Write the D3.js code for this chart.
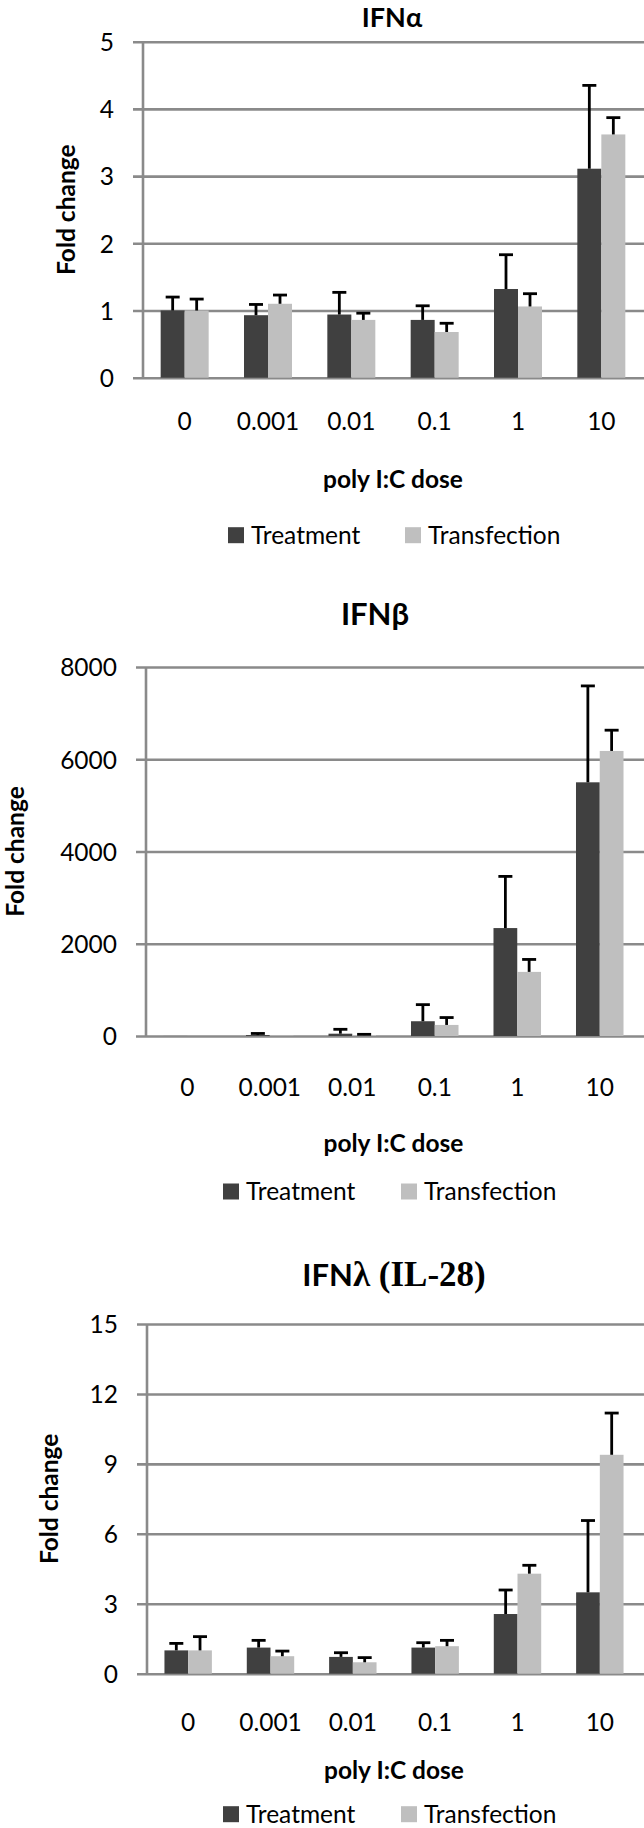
<!DOCTYPE html>
<html>
<head>
<meta charset="utf-8">
<script src="https://cdn.jsdelivr.net/npm/d3@7"></script>
<style>
  html, body { margin: 0; padding: 0; background: #ffffff; }
  svg { display: block; }
</style>
</head>
<body>
<svg id="fig" width="644" height="1828"></svg>
<script>
// ---------- data ----------
const doses = ["0", "0.001", "0.01", "0.1", "1", "10"];
const seriesNames = ["Treatment", "Transfection"];

const ifnaTreatment       = [1.00, 0.93, 0.94, 0.86, 1.32, 3.11];
const ifnaTreatmentErr    = [0.20, 0.16, 0.33, 0.21, 0.51, 1.24];
const ifnaTransfection    = [1.00, 1.10, 0.86, 0.68, 1.06, 3.62];
const ifnaTransfectionErr = [0.17, 0.13, 0.10, 0.13, 0.19, 0.25];
const ifnaTicks = [0, 1, 2, 3, 4, 5];

const ifnbTreatment       = [1, 20, 50, 320, 2340, 5500];
const ifnbTreatmentErr    = [0, 35, 95, 360, 1120, 2090];
const ifnbTransfection    = [1, 10, 20, 240, 1390, 6180];
const ifnbTransfectionErr = [0, 0, 16, 160, 270, 450];
const ifnbTicks = [0, 2000, 4000, 6000, 8000];

const ifnlTreatment       = [1.00, 1.12, 0.72, 1.12, 2.56, 3.49];
const ifnlTreatmentErr    = [0.30, 0.31, 0.18, 0.21, 1.03, 3.08];
const ifnlTransfection    = [1.00, 0.75, 0.49, 1.18, 4.29, 9.39];
const ifnlTransfectionErr = [0.59, 0.22, 0.20, 0.25, 0.36, 1.79];
const ifnlTicks = [0, 3, 6, 9, 12, 15];

const yTitle = "Fold change";
const xTitle = "poly I:C dose";

// ---------- style ----------
const SANS = "Lato, 'Open Sans', sans-serif";
const SERIF = "'Liberation Serif', 'DejaVu Serif', serif";
const colors = { Treatment: "#404040", Transfection: "#bfbfbf" };
const gridColor = "#8a8a8a";
const FS = 24.5;

const svg = d3.select("#fig");
svg.append("rect").attr("width", 644).attr("height", 1828).attr("fill", "#fff");

function drawChart(cfg) {
  const g = svg.append("g");
  const y = d3.scaleLinear().domain([0, cfg.ticks[cfg.ticks.length - 1]]).range([cfg.bottom, cfg.top]);
  const x0 = d3.scaleBand().domain(doses).range([cfg.left, cfg.right])
    .paddingInner(0.424).paddingOuter(0.212);
  const x1 = d3.scaleBand().domain(seriesNames).range([0, x0.bandwidth()]);

  // gridlines (incl. outside tick marks) via axis
  const grid = g.append("g").attr("transform", `translate(${cfg.left - 10},0)`)
    .call(d3.axisLeft(y).tickValues(cfg.ticks).tickSizeInner(-(644 - cfg.left + 10)).tickSizeOuter(0).tickFormat(""));
  grid.select(".domain").remove();
  grid.selectAll(".tick line").attr("stroke", gridColor).attr("stroke-width", 2.6);

  // y axis line
  g.append("line").attr("x1", cfg.left).attr("x2", cfg.left)
    .attr("y1", y(cfg.ticks[cfg.ticks.length - 1])).attr("y2", y(0))
    .attr("stroke", gridColor).attr("stroke-width", 2.6);

  // y tick labels
  const yax = g.append("g").attr("transform", `translate(${cfg.left},0)`)
    .call(d3.axisLeft(y).tickValues(cfg.ticks).tickSize(0).tickPadding(29).tickFormat(d3.format("d")));
  yax.select(".domain").remove();
  yax.selectAll("text").attr("font-family", SANS).attr("font-size", FS).attr("fill", "#000")
    .attr("dy", "0.36em");

  // x labels
  const xax = g.append("g").attr("transform", `translate(0,${cfg.bottom})`)
    .call(d3.axisBottom(x0).tickSize(0));
  xax.select(".domain").remove();
  xax.selectAll("text").attr("font-family", SANS).attr("font-size", FS).attr("fill", "#000")
    .attr("y", cfg.xLabelOff).attr("dy", 0);

  // bars
  const rows = doses.map((d, i) => ({
    dose: d,
    vals: [
      { s: seriesNames[0], v: cfg.s1[i], e: cfg.e1[i] },
      { s: seriesNames[1], v: cfg.s2[i], e: cfg.e2[i] }
    ]
  }));
  const grp = g.selectAll(".grp").data(rows).join("g")
    .attr("transform", d => `translate(${x0(d.dose)},0)`);
  grp.selectAll("rect").data(d => d.vals).join("rect")
    .attr("x", d => x1(d.s)).attr("width", x1.bandwidth())
    .attr("y", d => y(d.v)).attr("height", d => y(0) - y(d.v))
    .attr("fill", d => colors[d.s]);

  // error bars (upper only)
  const eb = grp.selectAll(".eb").data(d => d.vals.filter(v => v.e > 0)).join("g");
  eb.append("line")
    .attr("x1", d => x1(d.s) + x1.bandwidth() / 2).attr("x2", d => x1(d.s) + x1.bandwidth() / 2)
    .attr("y1", d => y(d.v)).attr("y2", d => y(d.v + d.e))
    .attr("stroke", "#000").attr("stroke-width", 2.8);
  eb.append("line")
    .attr("x1", d => x1(d.s) + x1.bandwidth() / 2 - 7).attr("x2", d => x1(d.s) + x1.bandwidth() / 2 + 7)
    .attr("y1", d => y(d.v + d.e)).attr("y2", d => y(d.v + d.e))
    .attr("stroke", "#000").attr("stroke-width", 2.8);

  // chart title
  const t = g.append("text").attr("x", cfg.titleX).attr("y", cfg.titleY)
    .attr("text-anchor", "middle").attr("font-weight", "bold").attr("fill", "#000");
  cfg.title.forEach(part => {
    t.append("tspan").text(part.text).attr("font-family", part.serif ? SERIF : SANS)
      .attr("font-size", part.size);
  });

  // y title
  g.append("text").attr("transform", `translate(${cfg.yTitleX},${(y(0) + y(cfg.ticks[cfg.ticks.length - 1])) / 2}) rotate(-90)`)
    .attr("text-anchor", "middle").attr("dy", "0.36em")
    .attr("font-family", SANS).attr("font-weight", "bold").attr("font-size", FS).text(yTitle);

  // x title
  g.append("text").attr("x", (cfg.left + cfg.right) / 2).attr("y", cfg.bottom + cfg.xTitleOff)
    .attr("text-anchor", "middle").attr("font-family", SANS).attr("font-weight", "bold")
    .attr("font-size", FS).text(xTitle);

  // legend
  const lb = cfg.bottom + cfg.legendOff;
  seriesNames.forEach((s, i) => {
    g.append("rect").attr("x", cfg.legendX[i]).attr("y", lb - 16.5).attr("width", 16).attr("height", 16)
      .attr("fill", colors[s]);
    g.append("text").attr("x", cfg.legendX[i] + 23).attr("y", lb)
      .attr("font-family", SANS).attr("font-size", FS).text(s);
  });
}

drawChart({
  s1: ifnaTreatment, e1: ifnaTreatmentErr, s2: ifnaTransfection, e2: ifnaTransfectionErr,
  ticks: ifnaTicks, left: 143, right: 643, top: 41.7, bottom: 377.7,
  title: [{ text: "IFNα", size: 27 }], titleX: 392, titleY: 27,
  yTitleX: 66, xLabelOff: 52.5, xTitleOff: 110, legendOff: 166, legendX: [228, 405]
});

drawChart({
  s1: ifnbTreatment, e1: ifnbTreatmentErr, s2: ifnbTransfection, e2: ifnbTransfectionErr,
  ticks: ifnbTicks, left: 146, right: 641, top: 667, bottom: 1036,
  title: [{ text: "IFNβ", size: 31 }], titleX: 375, titleY: 625,
  yTitleX: 15, xLabelOff: 60, xTitleOff: 116, legendOff: 164, legendX: [223, 401]
});

drawChart({
  s1: ifnlTreatment, e1: ifnlTreatmentErr, s2: ifnlTransfection, e2: ifnlTransfectionErr,
  ticks: ifnlTicks, left: 147, right: 641, top: 1324, bottom: 1673.7,
  title: [{ text: "IFN", size: 31 }, { text: "λ (IL-28)", size: 35, serif: true }], titleX: 394, titleY: 1286,
  yTitleX: 49, xLabelOff: 57, xTitleOff: 105, legendOff: 149, legendX: [223, 401]
});
</script>
</body>
</html>
